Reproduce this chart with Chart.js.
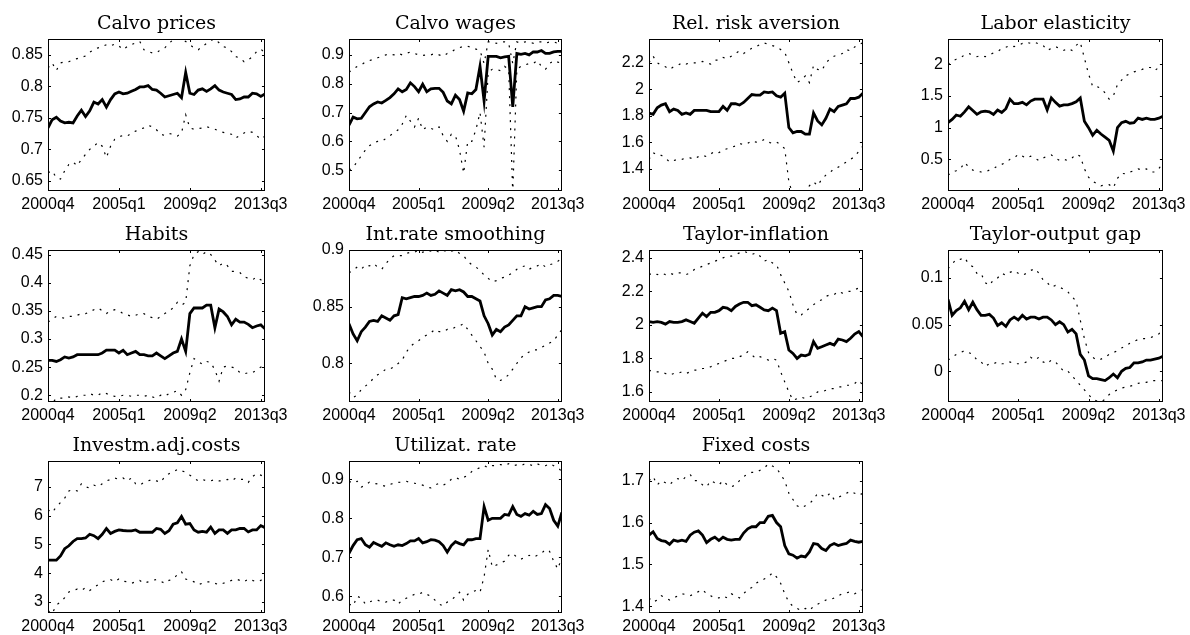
<!DOCTYPE html>
<html>
<head>
<meta charset="utf-8">
<script src="https://cdn.jsdelivr.net/npm/chart.js@4.4.1/dist/chart.umd.min.js"></script>
<style>
  html, body { margin: 0; padding: 0; background: #fff; width: 1190px; height: 635px; overflow: hidden; }
  canvas { position: absolute; }
</style>
</head>
<body>
<script>
// quarters on the x axis
const quarters = ['2000q4',
  '2001q1','2001q2','2001q3','2001q4','2002q1','2002q2','2002q3','2002q4',
  '2003q1','2003q2','2003q3','2003q4','2004q1','2004q2','2004q3','2004q4',
  '2005q1','2005q2','2005q3','2005q4','2006q1','2006q2','2006q3','2006q4',
  '2007q1','2007q2','2007q3','2007q4','2008q1','2008q2','2008q3','2008q4',
  '2009q1','2009q2','2009q3','2009q4','2010q1','2010q2','2010q3','2010q4',
  '2011q1','2011q2','2011q3','2011q4','2012q1','2012q2','2012q3','2012q4',
  '2013q1','2013q2','2013q3','2013q4'];
const xTickIdx = [0, 17, 34, 51];

// Calvo prices
const calvoPricesMed = [0.734,0.747,0.751,0.745,0.742,0.743,0.742,0.753,0.762,0.752,0.761,0.775,0.772,0.779,0.767,0.779,0.788,0.791,0.788,0.789,0.792,0.795,0.799,0.799,0.801,0.795,0.794,0.789,0.783,0.785,0.787,0.789,0.782,0.822,0.789,0.787,0.794,0.796,0.792,0.796,0.801,0.794,0.791,0.789,0.787,0.779,0.780,0.783,0.783,0.789,0.788,0.784,0.788];
const calvoPricesHi = [0.829,0.837,0.825,0.837,0.839,0.839,0.842,0.844,0.846,0.848,0.854,0.858,0.861,0.863,0.866,0.864,0.867,0.864,0.858,0.863,0.866,0.869,0.871,0.858,0.855,0.853,0.853,0.858,0.861,0.868,0.874,0.875,0.875,0.871,0.866,0.861,0.858,0.863,0.868,0.873,0.875,0.869,0.863,0.861,0.855,0.847,0.845,0.839,0.842,0.847,0.855,0.859,0.853];
const calvoPricesLo = [0.663,0.666,0.655,0.653,0.666,0.676,0.680,0.674,0.684,0.692,0.700,0.705,0.711,0.705,0.687,0.705,0.716,0.720,0.722,0.721,0.726,0.729,0.732,0.734,0.738,0.736,0.731,0.724,0.722,0.725,0.724,0.721,0.726,0.755,0.734,0.732,0.733,0.734,0.736,0.734,0.732,0.729,0.727,0.725,0.724,0.718,0.722,0.726,0.729,0.727,0.722,0.716,0.721];

// Calvo wages
const calvoWagesMed = [0.656,0.684,0.678,0.680,0.700,0.720,0.730,0.737,0.733,0.742,0.752,0.765,0.782,0.772,0.780,0.803,0.790,0.772,0.798,0.772,0.782,0.784,0.784,0.770,0.740,0.730,0.760,0.745,0.705,0.768,0.765,0.780,0.860,0.740,0.895,0.895,0.895,0.890,0.893,0.895,0.720,0.905,0.902,0.905,0.900,0.910,0.910,0.915,0.905,0.905,0.910,0.912,0.912];
const calvoWagesHi = [0.840,0.850,0.860,0.865,0.875,0.880,0.885,0.890,0.895,0.900,0.903,0.900,0.905,0.900,0.905,0.910,0.905,0.900,0.898,0.900,0.900,0.905,0.900,0.895,0.905,0.910,0.920,0.925,0.930,0.930,0.925,0.920,0.915,0.870,0.945,0.945,0.940,0.945,0.945,0.940,0.870,0.945,0.940,0.945,0.945,0.940,0.945,0.945,0.940,0.945,0.945,0.940,0.945];
const calvoWagesLo = [0.500,0.510,0.530,0.550,0.570,0.585,0.595,0.600,0.600,0.610,0.620,0.630,0.640,0.660,0.690,0.670,0.650,0.680,0.640,0.650,0.645,0.640,0.650,0.620,0.600,0.625,0.620,0.570,0.490,0.600,0.600,0.640,0.700,0.580,0.840,0.850,0.850,0.845,0.860,0.850,0.420,0.850,0.860,0.865,0.870,0.870,0.880,0.860,0.850,0.870,0.880,0.875,0.870];

// Rel. risk aversion
const riskAvMed = [1.82,1.81,1.86,1.88,1.89,1.83,1.85,1.84,1.81,1.82,1.81,1.84,1.84,1.84,1.84,1.83,1.83,1.83,1.87,1.84,1.89,1.89,1.88,1.90,1.93,1.96,1.955,1.955,1.98,1.975,1.98,1.95,1.94,1.97,1.71,1.67,1.68,1.68,1.66,1.66,1.82,1.76,1.73,1.78,1.85,1.83,1.87,1.88,1.89,1.93,1.93,1.94,1.97];
const riskAvHi = [2.20,2.25,2.20,2.18,2.17,2.15,2.17,2.18,2.20,2.19,2.20,2.20,2.20,2.21,2.20,2.19,2.22,2.22,2.24,2.23,2.25,2.27,2.29,2.27,2.29,2.31,2.32,2.34,2.35,2.34,2.33,2.32,2.30,2.28,2.20,2.12,2.05,2.07,2.10,2.05,2.18,2.15,2.14,2.20,2.23,2.25,2.26,2.27,2.30,2.29,2.32,2.34,2.35];
const riskAvLo = [1.47,1.52,1.50,1.50,1.48,1.45,1.46,1.47,1.47,1.48,1.48,1.47,1.49,1.50,1.49,1.51,1.53,1.52,1.54,1.55,1.56,1.57,1.59,1.58,1.59,1.61,1.60,1.60,1.62,1.60,1.59,1.60,1.58,1.55,1.30,1.20,1.20,1.24,1.22,1.27,1.30,1.27,1.32,1.35,1.37,1.40,1.41,1.43,1.45,1.47,1.49,1.53,1.57];

// Labor elasticity
const laborElMed = [1.08,1.13,1.20,1.18,1.25,1.33,1.27,1.21,1.25,1.26,1.25,1.21,1.28,1.24,1.30,1.45,1.38,1.38,1.40,1.36,1.42,1.45,1.45,1.45,1.28,1.47,1.40,1.34,1.36,1.36,1.38,1.41,1.47,1.10,1.00,0.88,0.96,0.90,0.85,0.80,0.63,1.00,1.08,1.10,1.07,1.08,1.15,1.13,1.15,1.13,1.13,1.15,1.18];
const laborElHi = [2.00,2.05,2.08,2.10,2.15,2.17,2.15,2.12,2.14,2.12,2.15,2.18,2.20,2.25,2.27,2.30,2.28,2.30,2.33,2.35,2.33,2.35,2.32,2.30,2.22,2.25,2.28,2.25,2.22,2.25,2.22,2.30,2.35,2.10,1.85,1.65,1.65,1.62,1.55,1.45,1.50,1.68,1.75,1.82,1.85,1.88,1.90,1.92,1.95,1.95,1.90,1.95,1.95];
const laborElLo = [0.25,0.30,0.32,0.35,0.45,0.38,0.33,0.32,0.30,0.30,0.33,0.35,0.40,0.42,0.45,0.50,0.52,0.58,0.55,0.52,0.55,0.52,0.48,0.52,0.55,0.57,0.52,0.48,0.50,0.48,0.52,0.58,0.55,0.35,0.22,0.15,0.12,0.08,0.10,0.10,0.05,0.20,0.28,0.27,0.30,0.32,0.35,0.33,0.35,0.30,0.30,0.35,0.45];

// Habits
const habitsMed = [0.262,0.262,0.260,0.263,0.268,0.266,0.268,0.272,0.272,0.272,0.272,0.272,0.272,0.275,0.280,0.280,0.280,0.275,0.280,0.272,0.275,0.278,0.272,0.272,0.270,0.270,0.275,0.270,0.265,0.270,0.275,0.278,0.300,0.278,0.345,0.355,0.355,0.355,0.360,0.360,0.320,0.353,0.348,0.340,0.325,0.335,0.330,0.330,0.326,0.320,0.323,0.325,0.318];
const habitsHi = [0.330,0.335,0.340,0.338,0.337,0.340,0.340,0.342,0.345,0.345,0.348,0.352,0.355,0.350,0.345,0.350,0.352,0.350,0.345,0.343,0.340,0.342,0.345,0.345,0.340,0.338,0.335,0.340,0.345,0.350,0.355,0.365,0.360,0.365,0.430,0.450,0.455,0.450,0.455,0.450,0.440,0.430,0.435,0.430,0.420,0.420,0.418,0.410,0.408,0.405,0.410,0.405,0.400];
const habitsLo = [0.190,0.185,0.195,0.195,0.195,0.197,0.195,0.198,0.200,0.200,0.203,0.200,0.200,0.205,0.203,0.200,0.198,0.198,0.200,0.200,0.198,0.200,0.200,0.198,0.200,0.197,0.195,0.200,0.198,0.203,0.205,0.208,0.200,0.210,0.240,0.265,0.260,0.255,0.260,0.258,0.245,0.225,0.250,0.252,0.250,0.248,0.240,0.238,0.240,0.240,0.245,0.250,0.250];

// Int.rate smoothing
const smoothMed = [0.835,0.826,0.820,0.828,0.832,0.837,0.838,0.837,0.842,0.840,0.838,0.842,0.843,0.858,0.857,0.858,0.859,0.859,0.860,0.862,0.860,0.861,0.864,0.862,0.860,0.865,0.864,0.865,0.863,0.859,0.859,0.857,0.855,0.842,0.835,0.825,0.830,0.828,0.832,0.834,0.838,0.842,0.842,0.850,0.848,0.849,0.850,0.850,0.856,0.857,0.860,0.860,0.859];
const smoothHi = [0.880,0.882,0.885,0.883,0.887,0.886,0.888,0.885,0.883,0.888,0.892,0.895,0.895,0.895,0.897,0.898,0.898,0.900,0.898,0.900,0.899,0.900,0.898,0.900,0.898,0.899,0.900,0.897,0.895,0.890,0.887,0.885,0.882,0.878,0.875,0.872,0.873,0.875,0.876,0.878,0.880,0.883,0.885,0.886,0.883,0.885,0.886,0.888,0.885,0.887,0.888,0.890,0.893];
const smoothLo = [0.775,0.770,0.772,0.777,0.780,0.783,0.787,0.790,0.792,0.795,0.795,0.797,0.800,0.803,0.810,0.815,0.818,0.820,0.823,0.825,0.827,0.830,0.828,0.828,0.830,0.830,0.832,0.833,0.835,0.830,0.825,0.820,0.815,0.810,0.800,0.795,0.786,0.785,0.787,0.790,0.795,0.800,0.805,0.808,0.810,0.812,0.812,0.814,0.816,0.818,0.820,0.825,0.830];

// Taylor-inflation
const taylorInfMed = [2.020,2.015,2.020,2.015,2.005,2.020,2.015,2.015,2.020,2.030,2.020,2.010,2.040,2.070,2.050,2.075,2.075,2.085,2.105,2.100,2.085,2.110,2.125,2.135,2.135,2.115,2.120,2.105,2.090,2.085,2.100,2.085,1.950,1.960,1.850,1.830,1.800,1.820,1.815,1.825,1.900,1.860,1.870,1.880,1.890,1.880,1.915,1.910,1.900,1.920,1.945,1.960,1.930];
const taylorInfHi = [2.30,2.31,2.30,2.31,2.30,2.31,2.30,2.31,2.31,2.30,2.31,2.33,2.34,2.35,2.36,2.37,2.38,2.39,2.40,2.41,2.41,2.42,2.43,2.44,2.43,2.42,2.43,2.41,2.38,2.39,2.37,2.36,2.30,2.25,2.20,2.12,2.06,2.06,2.08,2.10,2.12,2.14,2.15,2.17,2.18,2.18,2.20,2.19,2.20,2.20,2.21,2.22,2.24];
const taylorInfLo = [1.73,1.72,1.72,1.72,1.71,1.70,1.71,1.71,1.72,1.71,1.72,1.73,1.73,1.74,1.74,1.75,1.76,1.77,1.78,1.79,1.80,1.80,1.81,1.82,1.84,1.82,1.80,1.81,1.80,1.79,1.80,1.79,1.72,1.66,1.60,1.55,1.56,1.57,1.56,1.57,1.58,1.60,1.60,1.61,1.62,1.62,1.63,1.63,1.64,1.64,1.65,1.67,1.64];

// Taylor-output gap
const taylorGapMed = [0.077,0.060,0.065,0.068,0.075,0.066,0.074,0.066,0.060,0.060,0.061,0.057,0.049,0.052,0.048,0.055,0.058,0.055,0.060,0.056,0.058,0.058,0.056,0.058,0.058,0.055,0.050,0.053,0.050,0.042,0.045,0.040,0.018,0.012,-0.005,-0.008,-0.008,-0.009,-0.010,-0.007,-0.003,-0.007,0.000,0.003,0.004,0.009,0.009,0.010,0.012,0.012,0.013,0.014,0.016];
const taylorGapHi = [0.110,0.115,0.120,0.120,0.122,0.115,0.112,0.105,0.105,0.095,0.092,0.098,0.100,0.105,0.103,0.106,0.108,0.105,0.103,0.105,0.108,0.110,0.105,0.098,0.095,0.090,0.092,0.090,0.088,0.085,0.080,0.075,0.055,0.035,0.020,0.015,0.012,0.013,0.015,0.018,0.020,0.022,0.025,0.027,0.030,0.032,0.034,0.035,0.035,0.036,0.038,0.040,0.045];
const taylorGapLo = [0.012,0.015,0.018,0.020,0.022,0.020,0.018,0.012,0.010,0.005,0.008,0.008,0.010,0.008,0.008,0.010,0.008,0.008,0.008,0.010,0.015,0.012,0.015,0.010,0.008,0.012,0.010,0.005,0.000,0.000,-0.005,-0.010,-0.015,-0.020,-0.025,-0.030,-0.032,-0.033,-0.030,-0.025,-0.022,-0.020,-0.018,-0.017,-0.016,-0.015,-0.013,-0.012,-0.012,-0.010,-0.010,-0.010,-0.010];

// Investm.adj.costs
const investMed = [4.45,4.45,4.45,4.60,4.85,4.95,5.10,5.20,5.20,5.22,5.35,5.30,5.20,5.35,5.55,5.38,5.45,5.50,5.48,5.47,5.47,5.50,5.42,5.42,5.42,5.42,5.55,5.52,5.38,5.47,5.70,5.75,5.97,5.70,5.72,5.50,5.42,5.45,5.42,5.60,5.38,5.50,5.50,5.38,5.50,5.50,5.55,5.55,5.43,5.50,5.50,5.65,5.58];
const investHi = [6.20,6.10,6.30,6.45,6.60,6.85,6.90,6.85,7.10,7.00,6.95,7.05,7.00,7.10,7.20,7.25,7.30,7.25,7.30,7.20,7.30,7.10,7.05,7.15,7.20,7.25,7.20,7.15,7.35,7.45,7.50,7.60,7.55,7.50,7.40,7.30,7.20,7.25,7.20,7.20,7.25,7.20,7.20,7.25,7.20,7.30,7.25,7.25,7.15,7.35,7.45,7.40,7.30];
const investLo = [2.70,2.60,2.90,3.00,3.15,3.35,3.40,3.45,3.40,3.50,3.40,3.50,3.60,3.70,3.75,3.78,3.70,3.80,3.72,3.70,3.65,3.70,3.75,3.65,3.70,3.75,3.78,3.72,3.65,3.75,3.80,3.95,4.05,3.80,3.75,3.70,3.60,3.65,3.70,3.70,3.65,3.60,3.65,3.70,3.75,3.80,3.75,3.70,3.80,3.75,3.70,3.75,3.85];

// Utilizat. rate
const utilMed = [0.710,0.730,0.745,0.748,0.732,0.726,0.738,0.733,0.728,0.737,0.732,0.728,0.732,0.730,0.735,0.742,0.742,0.748,0.737,0.740,0.745,0.744,0.740,0.730,0.713,0.730,0.740,0.735,0.732,0.745,0.745,0.748,0.748,0.830,0.795,0.800,0.800,0.800,0.810,0.808,0.830,0.810,0.805,0.812,0.808,0.818,0.810,0.812,0.835,0.825,0.795,0.780,0.815];
const utilHi = [0.895,0.890,0.895,0.880,0.885,0.893,0.890,0.888,0.885,0.882,0.887,0.890,0.892,0.893,0.895,0.892,0.890,0.888,0.885,0.880,0.878,0.885,0.890,0.885,0.890,0.900,0.905,0.900,0.905,0.910,0.920,0.925,0.930,0.935,0.930,0.935,0.935,0.938,0.935,0.940,0.935,0.937,0.935,0.940,0.938,0.935,0.940,0.935,0.935,0.940,0.935,0.930,0.920];
const utilLo = [0.580,0.575,0.600,0.595,0.580,0.585,0.590,0.590,0.585,0.585,0.590,0.590,0.580,0.590,0.595,0.600,0.605,0.605,0.610,0.605,0.600,0.590,0.580,0.575,0.585,0.590,0.600,0.610,0.590,0.605,0.610,0.615,0.610,0.650,0.720,0.675,0.680,0.685,0.690,0.705,0.710,0.700,0.695,0.700,0.705,0.700,0.705,0.710,0.720,0.715,0.690,0.670,0.700];

// Fixed costs
const fixedMed = [1.570,1.578,1.562,1.557,1.555,1.548,1.558,1.555,1.558,1.555,1.570,1.577,1.580,1.570,1.552,1.560,1.565,1.557,1.565,1.560,1.558,1.560,1.560,1.575,1.585,1.590,1.590,1.600,1.600,1.615,1.617,1.600,1.590,1.545,1.525,1.522,1.515,1.520,1.518,1.530,1.550,1.548,1.538,1.533,1.545,1.550,1.545,1.548,1.550,1.558,1.555,1.553,1.555];
const fixedHi = [1.700,1.710,1.690,1.700,1.695,1.690,1.700,1.705,1.700,1.710,1.715,1.700,1.700,1.690,1.685,1.700,1.695,1.690,1.700,1.690,1.685,1.690,1.700,1.710,1.715,1.720,1.720,1.725,1.730,1.740,1.735,1.730,1.715,1.700,1.670,1.655,1.640,1.635,1.640,1.645,1.655,1.670,1.665,1.660,1.670,1.655,1.660,1.665,1.670,1.675,1.670,1.665,1.670];
const fixedLo = [1.420,1.410,1.415,1.425,1.420,1.415,1.420,1.425,1.430,1.428,1.425,1.430,1.435,1.440,1.430,1.425,1.420,1.420,1.425,1.420,1.430,1.425,1.420,1.430,1.440,1.445,1.455,1.460,1.465,1.470,1.480,1.470,1.455,1.430,1.410,1.400,1.395,1.390,1.395,1.390,1.400,1.405,1.410,1.415,1.415,1.420,1.425,1.430,1.432,1.435,1.430,1.435,1.440];

// y ticks per panel
const calvoPricesTicks = [0.65, 0.7, 0.75, 0.8, 0.85];
const calvoWagesTicks = [0.5, 0.6, 0.7, 0.8, 0.9];
const riskAvTicks = [1.4, 1.6, 1.8, 2, 2.2];
const laborElTicks = [0.5, 1, 1.5, 2];
const habitsTicks = [0.2, 0.25, 0.3, 0.35, 0.4, 0.45];
const smoothTicks = [0.8, 0.85, 0.9];
const taylorInfTicks = [1.6, 1.8, 2, 2.2, 2.4];
const taylorGapTicks = [0, 0.05, 0.1];
const investTicks = [3, 4, 5, 6, 7];
const utilTicks = [0.6, 0.7, 0.8, 0.9];
const fixedTicks = [1.4, 1.5, 1.6, 1.7];

// panels: title, series, y range
const panels = [
    { title: 'Calvo prices', med: calvoPricesMed, hi: calvoPricesHi, lo: calvoPricesLo, ticks: calvoPricesTicks, min: 0.634, max: 0.875 },
    { title: 'Calvo wages', med: calvoWagesMed, hi: calvoWagesHi, lo: calvoWagesLo, ticks: calvoWagesTicks, min: 0.428, max: 0.955 },
    { title: 'Rel. risk aversion', med: riskAvMed, hi: riskAvHi, lo: riskAvLo, ticks: riskAvTicks, min: 1.23, max: 2.38 },
    { title: 'Labor elasticity', med: laborElMed, hi: laborElHi, lo: laborElLo, ticks: laborElTicks, min: 0, max: 2.4 },
    { title: 'Habits', med: habitsMed, hi: habitsHi, lo: habitsLo, ticks: habitsTicks, min: 0.188, max: 0.458 },
    { title: 'Int.rate smoothing', med: smoothMed, hi: smoothHi, lo: smoothLo, ticks: smoothTicks, min: 0.766, max: 0.9 },
    { title: 'Taylor-inflation', med: taylorInfMed, hi: taylorInfHi, lo: taylorInfLo, ticks: taylorInfTicks, min: 1.54, max: 2.447 },
    { title: 'Taylor-output gap', med: taylorGapMed, hi: taylorGapHi, lo: taylorGapLo, ticks: taylorGapTicks, min: -0.033, max: 0.13 },
    { title: 'Investm.adj.costs', med: investMed, hi: investHi, lo: investLo, ticks: investTicks, min: 2.62, max: 7.89 },
    { title: 'Utilizat. rate', med: utilMed, hi: utilHi, lo: utilLo, ticks: utilTicks, min: 0.557, max: 0.947 },
    { title: 'Fixed costs', med: fixedMed, hi: fixedHi, lo: fixedLo, ticks: fixedTicks, min: 1.384, max: 1.747 }
];

// plot boxes on the page
const colLeft = [48, 349, 649, 948];
const colWidth = [217, 213, 214, 215];
const rowTop = [39, 250, 461];
const plotH = 152;
const yAxisW = 48;
const titleH = 26;
const xAxisH = 24;
const padRight = 27;

// frame, inward ticks and title centred on the plot box (matlab style)
const boxPlugin = {
    id: 'box',
    afterDatasetsDraw(chart, args, opts) {
        const { ctx, chartArea: a, scales } = chart;
        const t = 3;
        ctx.save();
        ctx.strokeStyle = '#000';
        ctx.lineWidth = 1;
        ctx.strokeRect(Math.round(a.left) + 0.5, Math.round(a.top) + 0.5,
            Math.round(a.right - a.left) - 1, Math.round(a.bottom - a.top) - 1);
        ctx.beginPath();
        scales.y.ticks.forEach(tk => {
            const y = Math.round(scales.y.getPixelForValue(tk.value)) + 0.5;
            ctx.moveTo(a.left, y); ctx.lineTo(a.left + t, y);
            ctx.moveTo(a.right, y); ctx.lineTo(a.right - t, y);
        });
        scales.x.ticks.forEach(tk => {
            const x = Math.round(scales.x.getPixelForValue(tk.value)) + 0.5;
            ctx.moveTo(x, a.bottom); ctx.lineTo(x, a.bottom - t);
            ctx.moveTo(x, a.top); ctx.lineTo(x, a.top + t);
        });
        ctx.stroke();

        ctx.fillStyle = '#000';
        ctx.font = '19px "DejaVu Serif"';
        ctx.textAlign = 'center';
        ctx.textBaseline = 'alphabetic';
        ctx.fillText(opts.title, (a.left + a.right) / 2, a.top - 10);
        ctx.restore();
    }
};

function fmt(v) {
    return String(parseFloat(v.toFixed(3)));
}

panels.forEach((p, i) => {
    const col = i % 4;
    const row = Math.floor(i / 4);
    const canvas = document.createElement('canvas');
    canvas.width = yAxisW + colWidth[col] + padRight;
    canvas.height = titleH + plotH + xAxisH;
    canvas.style.left = (colLeft[col] - yAxisW) + 'px';
    canvas.style.top = (rowTop[row] - titleH) + 'px';
    document.body.appendChild(canvas);

    // dotted bands, solid median on top
    const band = { borderColor: '#000', borderWidth: 1.2, borderDash: [2, 6], pointRadius: 0, tension: 0, clip: 0 };

    new Chart(canvas.getContext('2d'), {
        type: 'line',
        data: {
            labels: quarters,
            datasets: [
                { ...band, data: p.hi },
                { ...band, data: p.lo },
                { data: p.med, borderColor: '#000', borderWidth: 2.8, pointRadius: 0, tension: 0, clip: 0 }
            ]
        },
        options: {
            responsive: false,
            animation: false,
            devicePixelRatio: 1,
            layout: { padding: { left: 0, right: padRight, top: titleH, bottom: 0 } },
            plugins: {
                legend: { display: false },
                tooltip: { enabled: false },
                title: { display: false },
                box: { title: p.title }
            },
            scales: {
                x: {
                    type: 'category',
                    grid: { display: false, drawTicks: false },
                    border: { display: false },
                    afterBuildTicks: s => { s.ticks = xTickIdx.map(v => ({ value: v })); },
                    afterFit: s => { s.height = xAxisH; },
                    ticks: {
                        autoSkip: false,
                        maxRotation: 0,
                        padding: 4,
                        color: '#000',
                        font: { family: 'Liberation Sans', size: 16 }
                    }
                },
                y: {
                    min: p.min,
                    max: p.max,
                    grid: { display: false, drawTicks: false },
                    border: { display: false },
                    afterBuildTicks: s => { s.ticks = p.ticks.map(v => ({ value: v })); },
                    afterFit: s => { s.width = yAxisW; },
                    ticks: {
                        padding: 5,
                        color: '#000',
                        font: { family: 'Liberation Sans', size: 16 },
                        callback: v => fmt(v)
                    }
                }
            }
        },
        plugins: [boxPlugin]
    });
});
</script>
</body>
</html>
